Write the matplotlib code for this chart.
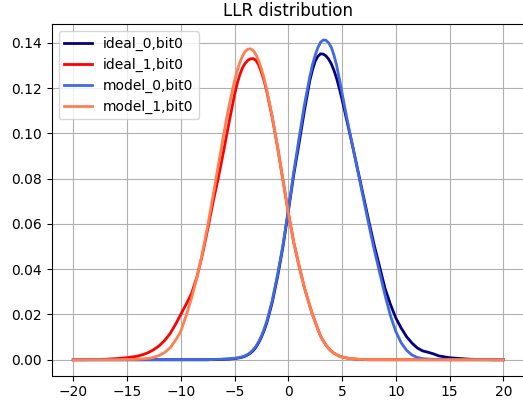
import numpy as np
import matplotlib
matplotlib.use("Agg")
import matplotlib.pyplot as plt

# LLR grid: coarse in the tails, finer in the middle, finest around the peaks
llr = [-20, -19, -18, -17, -16, -15,
       -14, -13.5, -13, -12.5, -12, -11.5, -11, -10.5, -10, -9.5, -9, -8.5, -8, -7.5,
       -7, -6.5, -6, -5.5, -5, -4.75, -4.5, -4.25, -4, -3.75, -3.5, -3.25, -3, -2.75,
       -2.5, -2.25, -2, -1.5, -1, -0.5, 0,
       0.5, 1, 1.5, 2, 2.25, 2.5, 2.75, 3, 3.25, 3.5, 3.75, 4, 4.25, 4.5, 4.75, 5,
       5.5, 6, 6.5, 7, 7.5,
       8, 8.5, 9, 9.5, 10, 10.5, 11, 11.5, 12, 12.5, 13, 13.5, 14,
       15, 16, 17, 18, 19, 20]

ideal_0 = [0, 0, 0, 0, 0, 0,
           0, 0, 0, 0, 0, 0, 0, 0, 0, 0, 0, 0, 0, 0,
           0.0001, 0.0001, 0.0002, 0.0003, 0.0005, 0.0007, 0.0009, 0.0012, 0.0016, 0.0022,
           0.0030, 0.0041, 0.0056, 0.0076,
           0.0100, 0.0129, 0.0163, 0.0252, 0.0366, 0.0498, 0.0655,
           0.0815, 0.0955, 0.1100, 0.1232, 0.1280, 0.1318, 0.1340, 0.1351, 0.1350, 0.1342,
           0.1328, 0.1307, 0.1278, 0.1242, 0.1198, 0.1150,
           0.1045, 0.0940, 0.0830, 0.0720, 0.0610,
           0.0505, 0.0410, 0.0315, 0.0245, 0.0185, 0.0140, 0.0102, 0.0074, 0.0052, 0.0039,
           0.0033, 0.0026, 0.0017,
           0.0009, 0.0005, 0.0002, 0.0001, 0, 0]

ideal_1 = [0, 0, 0.0001, 0.0002, 0.0005, 0.0009,
           0.0016, 0.0023, 0.0032, 0.0045, 0.0062, 0.0085, 0.0115, 0.0155, 0.0200, 0.0245,
           0.0292, 0.0365, 0.0462, 0.0575,
           0.0695, 0.0805, 0.0925, 0.1050, 0.1170, 0.1220, 0.1260, 0.1290, 0.1310, 0.1323,
           0.1329, 0.1330, 0.1322, 0.1302,
           0.1270, 0.1232, 0.1185, 0.1072, 0.0940, 0.0795, 0.0650,
           0.0520, 0.0415, 0.0318, 0.0238, 0.0200, 0.0168, 0.0135, 0.0105, 0.0084, 0.0065,
           0.0050, 0.0038, 0.0029, 0.0022, 0.0016, 0.0012,
           0.0007, 0.0004, 0.0002, 0.0001, 0,
           0, 0, 0, 0, 0, 0, 0, 0, 0, 0, 0, 0, 0,
           0, 0, 0, 0, 0, 0]

model_0 = [0, 0, 0, 0, 0, 0,
           0, 0, 0, 0, 0, 0, 0, 0, 0, 0, 0, 0, 0, 0,
           0.0001, 0.0002, 0.0003, 0.0004, 0.0006, 0.0008, 0.0010, 0.0013, 0.0018, 0.0024,
           0.0033, 0.0045, 0.0060, 0.0080,
           0.0105, 0.0135, 0.0170, 0.0260, 0.0375, 0.0505, 0.0660,
           0.0826, 0.0978, 0.1125, 0.1250, 0.1302, 0.1345, 0.1378, 0.1402, 0.1412, 0.1411,
           0.1400, 0.1380, 0.1345, 0.1300, 0.1240, 0.1178,
           0.1055, 0.0940, 0.0825, 0.0710, 0.0595,
           0.0485, 0.0385, 0.0285, 0.0195, 0.0125, 0.0075, 0.0042, 0.0021, 0.0010, 0.0005,
           0.0003, 0.0002, 0.0001,
           0, 0, 0, 0, 0, 0]

model_1 = [0, 0, 0, 0, 0, 0.0001,
           0.0002, 0.0004, 0.0006, 0.0011, 0.0019, 0.0032, 0.0052, 0.0085, 0.0125, 0.0195,
           0.0272, 0.0362, 0.0469, 0.0590,
           0.0723, 0.0861, 0.0998, 0.1124, 0.1232, 0.1277, 0.1314, 0.1342, 0.1362, 0.1372,
           0.1373, 0.1365, 0.1347, 0.1320,
           0.1285, 0.1242, 0.1192, 0.1075, 0.0940, 0.0795, 0.0650,
           0.0520, 0.0415, 0.0318, 0.0238, 0.0200, 0.0168, 0.0135, 0.0105, 0.0084, 0.0065,
           0.0050, 0.0038, 0.0029, 0.0022, 0.0016, 0.0012,
           0.0007, 0.0004, 0.0002, 0.0001, 0,
           0, 0, 0, 0, 0, 0, 0, 0, 0, 0, 0, 0, 0,
           0, 0, 0, 0, 0, 0]

curves = [
    (ideal_0, "navy", "ideal_0,bit0"),
    (ideal_1, "red", "ideal_1,bit0"),
    (model_0, "royalblue", "model_0,bit0"),
    (model_1, "coral", "model_1,bit0"),
]

fig = plt.figure(figsize=(5.23, 4.04), dpi=100)
ax = fig.add_axes([0.099, 0.070, 0.9044, 0.8705])

for values, color, label in curves:
    ax.plot(llr, values, color=color, linewidth=2, label=label)

ax.set_title("LLR distribution")
ax.legend(loc="upper left")
ax.grid(True)

fig.savefig("out.png", dpi=100)
